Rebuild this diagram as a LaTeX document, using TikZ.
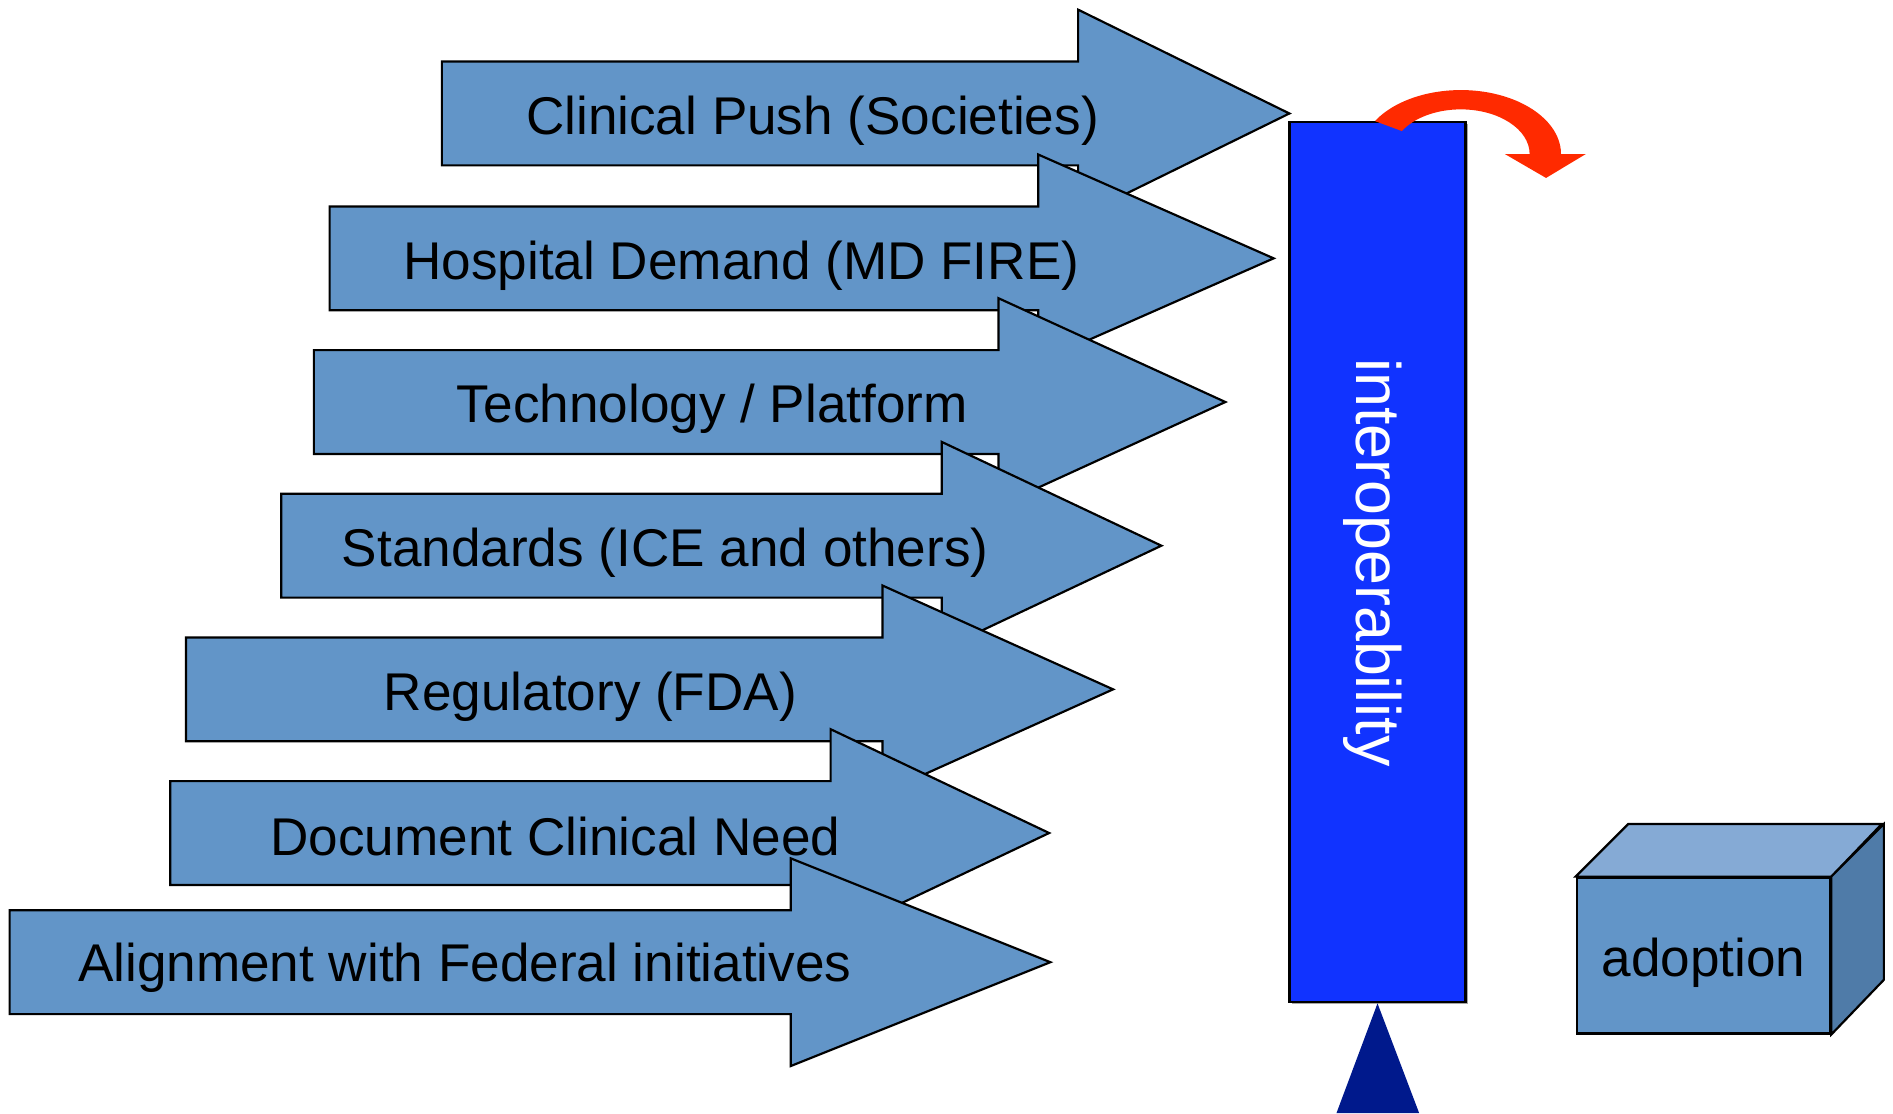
\documentclass[tikz,border=0pt]{standalone}
\usepackage{fontspec}
\setmainfont{Liberation Sans}
\definecolor{steel}{RGB}{98,149,200}
\definecolor{steeltop}{RGB}{133,170,213}
\definecolor{steelside}{RGB}{79,123,168}
\definecolor{barblue}{RGB}{17,51,255}
\definecolor{navy}{RGB}{0,25,140}
\definecolor{flame}{RGB}{255,42,0}
\begin{document}
\begin{tikzpicture}[x=0.5pt,y=0.5pt,
  arrowshape/.style={fill=steel, draw=black, line width=0.9pt, line join=miter},
  arrowtext/.style={font=\fontsize{22}{26}\selectfont, text=black, inner sep=0pt},
  barbox/.style={fill=barblue, draw=black, line width=1.1pt, minimum width=73pt, minimum height=364.5pt, inner sep=0pt},
  bartext/.style={font=\fontsize{26}{30}\selectfont, text=white, rotate=-90, inner sep=0pt},
  cubeface/.style={draw=black, line width=0.9pt, line join=miter},
  cubefront/.style={cubeface, fill=steel, minimum width=105pt, minimum height=64.5pt, inner sep=0pt, font=\fontsize{22}{26}\selectfont}]
\useasboundingbox (0,0) rectangle (1568,922);

% block arrow: #1 left end, #2 head base, #3 tip, #4 centre line
\newcommand\blockarrow[4]{%
  \draw[arrowshape] (#1,#4+43) -- (#2,#4+43) -- (#2,#4+86) -- (#3,#4)
    -- (#2,#4-86) -- (#2,#4-43) -- (#1,#4-43) -- cycle;}

\blockarrow{366}{893}{1068}{828}
\node[arrowtext] (push) at (673,822) {Clinical Push (Societies)};
\blockarrow{273}{860}{1055}{708}
\node[arrowtext] (hospital) at (614,702) {Hospital Demand (MD FIRE)};
\blockarrow{260}{827}{1015}{589}
\node[arrowtext] (tech) at (590,583) {Technology / Platform};
\blockarrow{233}{780}{962}{470}
\node[arrowtext] (standards) at (551,464) {Standards (ICE and others)};
\blockarrow{154}{731}{922}{351}
\node[arrowtext] (regulatory) at (489,345) {Regulatory (FDA)};
\blockarrow{141}{688}{869}{232}
\node[arrowtext] (need) at (460,229) {Document Clinical Need};
\blockarrow{8}{655}{870}{125}
\node[arrowtext] (federal) at (385,120) {Alignment with Federal initiatives};

% interoperability bar with its thin shadow
\fill[gray!70] (1070,90) rectangle (1216,819);
\node[barbox] (interop) at (1141,456.5) {};
\node[bartext] (interoplabel) at (1137,456) {interoperability};

% support triangle under the bar
\coordinate (apex) at (interop.south);
\fill[navy] (1107,0) -- (apex) -- (1175.5,0) -- cycle;

% curved red arrow over the top of the bar
\coordinate (turn) at (1210,794.4);
\fill[flame] ([shift={(149:83 and 53)}]turn)
  arc[start angle=149, end angle=0, x radius=83, y radius=53]
  -- (1313.5,794.4) -- (1280.6,774.6) -- (1246.5,794.4)
  -- ([shift={(0:57 and 37)}]turn)
  arc[start angle=0, end angle=149, x radius=57, y radius=37] -- cycle;

% adoption block
\node[cubefront] (adoption) at (1411,130.5) {\raisebox{-8.7pt}[0pt][0pt]{adoption}};
\draw[cubeface, fill=steeltop] (adoption.north west) -- ++(43.5,43.5) -- ++(210,0)
  -- (adoption.north east) -- cycle;
\draw[cubeface, fill=steelside] (adoption.north east) -- ++(43.5,43.5) -- ++(0,-129)
  -- (adoption.south east) -- cycle;
\end{tikzpicture}
\end{document}
